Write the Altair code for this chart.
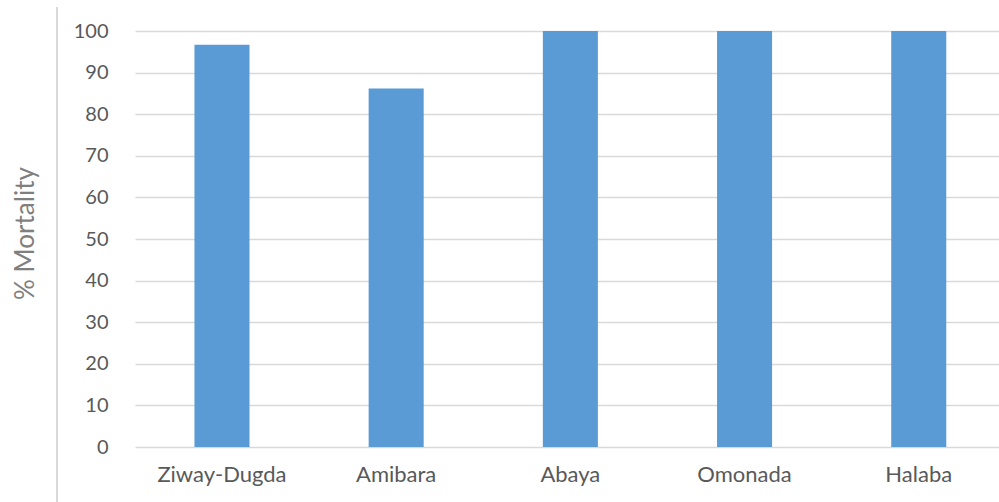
import altair as alt
import pandas as pd

# Insecticide bioassay results by site
sites = ["Ziway-Dugda", "Amibara", "Abaya", "Omonada", "Halaba"]
mortality = [96.7, 86.2, 100, 100, 100]
y_ticks = [0, 10, 20, 30, 40, 50, 60, 70, 80, 90, 100]

df = pd.DataFrame({"site": sites, "mortality": mortality})

LABEL_FONT = "Lato"
GRID = "#d9d9d9"

bars = alt.Chart(df).mark_bar(color="#5b9bd5").encode(
    x=alt.X(
        "site:N",
        sort=sites,
        scale=alt.Scale(paddingInner=0.684, paddingOuter=0.322, align=0.53),
        axis=alt.Axis(
            title=None,
            labelAngle=0,
            labelFont=LABEL_FONT,
            labelFontSize=22,
            labelColor="#595959",
            labelPadding=17,
            ticks=False,
            tickSize=0,
            domain=False,
            grid=False,
        ),
    ),
    y=alt.Y(
        "mortality:Q",
        scale=alt.Scale(domain=[0, 100], nice=False),
        axis=alt.Axis(
            title="% Mortality",
            titleFont=LABEL_FONT,
            titleFontSize=26,
            titleFontWeight="normal",
            titleColor="#7f7f7f",
            titleAngle=270,
            titleX=-110,
            titleY=202,
            titleAlign="center",
            titleBaseline="middle",
            values=y_ticks,
            labelFont=LABEL_FONT,
            labelFontSize=20,
            labelColor="#595959",
            labelPadding=27,
            ticks=False,
            tickSize=0,
            domain=False,
            grid=True,
            gridColor=GRID,
            gridWidth=1.5,
        ),
    ),
)

# Thin frame line on the left edge
frame = alt.Chart(df).mark_rule(color=GRID, strokeWidth=1.5).encode(
    x=alt.value(-78),
    y=alt.value(-24),
    y2=alt.value(471),
)

chart = (
    alt.layer(frame, bars)
    .properties(
        width=864,
        height=416,
        padding={"left": 135, "top": 31, "right": 0, "bottom": 55},
        autosize=alt.AutoSizeParams(type="none"),
        background="white",
    )
    .configure_view(stroke=None)
)

chart.save("out.html", embed_options={"renderer": "svg", "actions": False})
